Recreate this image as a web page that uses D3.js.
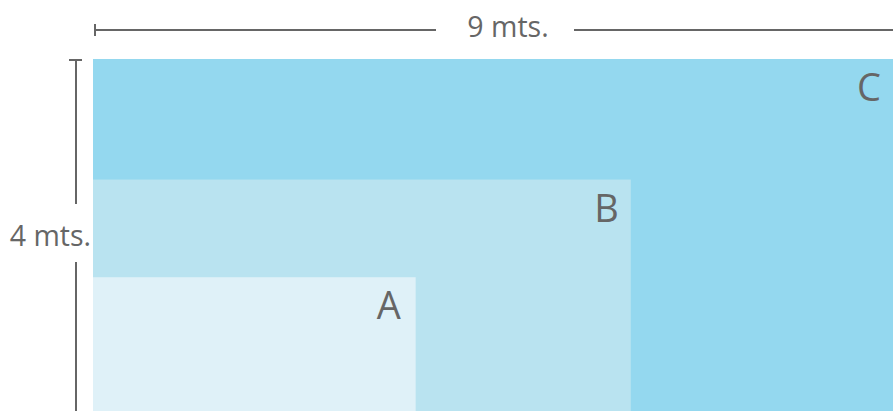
<!DOCTYPE html>
<html>
<head>
<meta charset="utf-8">
<script src="https://cdn.jsdelivr.net/npm/d3@7"></script>
<style>
  html, body { margin: 0; padding: 0; background: #fff; overflow: hidden; }
  text { font-family: "Open Sans", "Noto Sans", sans-serif; fill: #666; }
</style>
</head>
<body>
<div id="chart"></div>
<script>
'use strict';

// sizes in metres
const names   = ['C', 'B', 'A'];
const widths  = [9, 6.05, 3.63];
const heights = [4, 2.63, 1.52];
const colors  = ['#94d8ef', '#b9e3f0', '#dff1f8'];
const widthLabel  = '9 mts.';
const heightLabel = '4 mts.';

(function() {
    let W = 893, H = 411;
    let left = 93, top = 59;

    let x = d3.scaleLinear().domain([0, 9]).range([left, W]);
    let y = d3.scaleLinear().domain([0, 4]).range([H, top]);

    let svg = d3.select('#chart').append('svg')
        .attr('width', W)
        .attr('height', H);

    let data = names.map((n, i) => ({name: n, w: widths[i], h: heights[i], color: colors[i]}));

    svg.selectAll('.box')
        .data(data)
        .enter().append('rect')
        .attr('class', 'box')
        .attr('x', x(0))
        .attr('y', d => y(d.h))
        .attr('width', d => x(d.w) - x(0))
        .attr('height', d => y(0) - y(d.h))
        .style('fill', d => d.color);

    svg.selectAll('.boxLabel')
        .data(data)
        .enter().append('text')
        .attr('class', 'boxLabel')
        .attr('x', d => x(d.w) - (d.name === 'A' ? 15 : 12))
        .attr('y', d => y(d.h) + 42)
        .style('text-anchor', 'end')
        .style('font-size', '38px')
        .text(d => d.name);

    let dim = svg.append('g')
        .style('stroke', '#666')
        .style('stroke-width', 2)
        .style('fill', 'none');

    // horizontal dimension
    let hy = 30, hx0 = x(0) + 2, hmid = 505, hgap = 69;
    dim.append('line').attr('x1', hx0).attr('x2', hx0).attr('y1', hy - 6).attr('y2', hy + 6);
    dim.append('line').attr('x1', hx0).attr('x2', hmid - hgap).attr('y1', hy).attr('y2', hy);
    dim.append('line').attr('x1', hmid + hgap).attr('x2', W + 20).attr('y1', hy).attr('y2', hy);
    svg.append('text')
        .attr('x', 508)
        .attr('y', hy + 7)
        .style('text-anchor', 'middle')
        .style('font-size', '28.5px')
        .text(widthLabel);

    // vertical dimension
    let vx = 76, vy0 = y(4) + 1, vmid = 233, vgap = 29;
    dim.append('line').attr('x1', vx - 7).attr('x2', vx + 6).attr('y1', vy0).attr('y2', vy0);
    dim.append('line').attr('x1', vx).attr('x2', vx).attr('y1', vy0).attr('y2', vmid - vgap);
    dim.append('line').attr('x1', vx).attr('x2', vx).attr('y1', vmid + vgap).attr('y2', H + 20);
    svg.append('text')
        .attr('x', 91)
        .attr('y', vmid + 13)
        .style('text-anchor', 'end')
        .style('font-size', '28.5px')
        .text(heightLabel);
})();
</script>
</body>
</html>
